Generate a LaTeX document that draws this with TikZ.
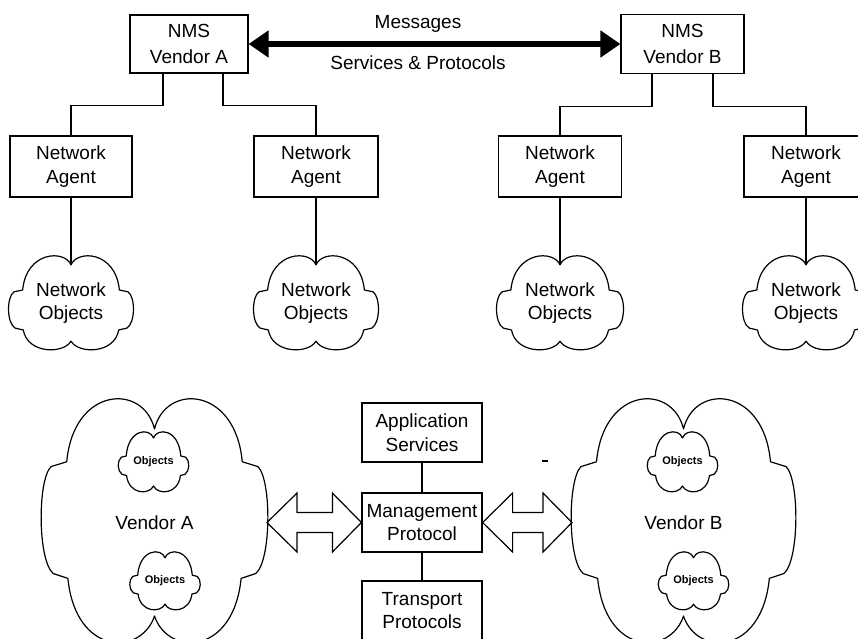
\documentclass[tikz,border=0pt]{standalone}
\usepackage{fontspec}
\setmainfont{Liberation Sans}
\usetikzlibrary{arrows.meta,calc}

% cloud outline around a text node (outline coordinates: +y is up):
% #1 name, #2 centre, #3 half width, #4 half height,
% #5 upper shoulder height, #6 lower shoulder height, #7 top/bottom dip,
% #8 text, #9 text style
\newcommand\cloudnode[9]{%
  \node[#9] (#1) at #2 {#8};
  \begin{scope}[shift={(#1.center)}, xscale=#3, yscale=-#4]
    \draw[cloudline]
      (0,#7) .. controls (-0.1,1.15) and (-0.72,1.12) .. (-0.78,#5)
      -- (-0.92,#5-0.04)
      .. controls (-1.04,#5-0.15) and (-1.04,#6+0.15) .. (-0.9,#6+0.04)
      -- (-0.77,#6)
      .. controls (-0.7,-1.1) and (-0.12,-1.1) .. (0,-#7)
      .. controls (0.12,-1.1) and (0.7,-1.1) .. (0.77,#6)
      -- (0.9,#6+0.04)
      .. controls (1.04,#6+0.15) and (1.04,#5-0.15) .. (0.92,#5-0.04)
      -- (0.78,#5)
      .. controls (0.72,1.12) and (0.1,1.15) .. (0,#7) -- cycle;
    \coordinate (#1-top) at (0,#7);
    \coordinate (#1-east) at (1,0);
    \coordinate (#1-west) at (-1,0);
  \end{scope}}

% hollow double-headed block arrow between two points
\newcommand\fatarrow[2]{%
  \draw[link, line join=miter]
    #1 -- ($#1+(30,-29.5)$) -- ($#1+(30,-10)$) -- ($#2+(-29,-10)$)
    -- ($#2+(-29,-29.5)$) -- #2 -- ($#2+(-29,29.5)$) -- ($#2+(-29,10)$)
    -- ($#1+(30,10)$) -- ($#1+(30,29.5)$) -- cycle;}

\begin{document}
\begin{tikzpicture}[x=1pt,y=-1pt,
  box/.style={draw, line width=1.2pt, align=center, inner sep=0pt,
    font=\fontsize{19}{23.5}\selectfont},
  nmsbox/.style={box, font=\fontsize{19}{26}\selectfont},
  lbl/.style={inner sep=0pt, align=center, font=\fontsize{19}{23.5}\selectfont},
  objlbl/.style={inner sep=0pt, font=\bfseries\fontsize{11}{13}\selectfont},
  link/.style={line width=1.2pt},
  cloudline/.style={line width=1.2pt, line join=round},
]
\useasboundingbox (0,0) rectangle (858,638);
\fill[white] (0,0) rectangle (858,638);
\clip (0,0) rectangle (858,638);

% --- management stations and the link between them
\node[nmsbox, minimum width=118pt, minimum height=58pt] (nmsA) at (189,44) {NMS\\Vendor A};
\node[nmsbox, minimum width=123pt, minimum height=59pt] (nmsB) at (682.5,44) {NMS\\Vendor B};
\draw[line width=6.5pt, {Triangle[length=20pt,width=26pt]}-{Triangle[length=20pt,width=26pt]}]
  (nmsA.east) -- (nmsB.west);
\node[lbl] (msg) at (418,24) {Messages};
\node[lbl] (svc) at (418,63) {Services \& Protocols};

% --- agents
\node[box, minimum width=122pt, minimum height=61pt] (agA1) at (71,166.5) {Network\\Agent};
\node[box, minimum width=124pt, minimum height=61pt] (agA2) at (316,166.5) {Network\\Agent};
\node[box, minimum width=123pt, minimum height=61pt] (agB1) at (560,166.5) {Network\\Agent};
\node[box, minimum width=124pt, minimum height=61pt] (agB2) at (806,166.5) {Network\\Agent};

\draw[link] ([xshift=-26pt]nmsA.south) -- ++(0,32) -| (agA1.north);
\draw[link] ([xshift=34pt]nmsA.south) -- ++(0,32) -| (agA2.north);
\draw[link] ([xshift=-30.5pt]nmsB.south) -- ++(0,32) -| (agB1.north);
\draw[link] ([xshift=30.5pt]nmsB.south) -- ++(0,32) -| (agB2.north);

% --- managed objects
\cloudnode{objA1}{(71,303)}{62}{46.5}{0.28}{-0.58}{0.82}{Network\\Objects}{lbl}
\cloudnode{objA2}{(316,303)}{62}{46.5}{0.28}{-0.58}{0.82}{Network\\Objects}{lbl}
\cloudnode{objB1}{(560,303)}{63}{46.5}{0.28}{-0.58}{0.82}{Network\\Objects}{lbl}
\cloudnode{objB2}{(806,303)}{63}{46.5}{0.28}{-0.58}{0.82}{Network\\Objects}{lbl}

\draw[link] (agA1.south) -- (objA1-top);
\draw[link] (agA2.south) -- (objA2-top);
\draw[link] (agB1.south) -- (objB1-top);
\draw[link] (agB2.south) -- (objB2-top);

% --- protocol stack
\node[box, minimum width=120pt, minimum height=59pt] (app) at (422,432.5) {Application\\Services};
\node[box, minimum width=120pt, minimum height=59pt] (mgmt) at (422,522.5) {Management\\Protocol};
\node[box, minimum width=120pt, minimum height=59pt] (trans) at (422,610.5) {Transport\\Protocols};
\draw[link] (app) -- (mgmt);
\draw[link] (mgmt) -- (trans);

% --- vendor domains
\cloudnode{vendA}{(154.5,522.5)}{112.5}{121.5}{0.5}{-0.46}{0.77}{Vendor A}{lbl}
\cloudnode{vendB}{(683.5,522.5)}{111.5}{121.5}{0.5}{-0.46}{0.77}{Vendor B}{lbl}

\cloudnode{oA1}{(153.5,462)}{35}{30}{0.2}{-0.45}{0.8}{Objects}{objlbl}
\cloudnode{oA2}{(165,581)}{35}{29}{0.2}{-0.45}{0.8}{Objects}{objlbl}
\cloudnode{oB1}{(682.5,462)}{35}{30}{0.2}{-0.45}{0.8}{Objects}{objlbl}
\cloudnode{oB2}{(693.5,581)}{35}{29}{0.2}{-0.45}{0.8}{Objects}{objlbl}

\fatarrow{(vendA-east)}{(mgmt.west)}
\fatarrow{(mgmt.east)}{(vendB-west)}

% small stray dash
\draw[link] (542,461) -- (548,461);
\end{tikzpicture}
\end{document}
